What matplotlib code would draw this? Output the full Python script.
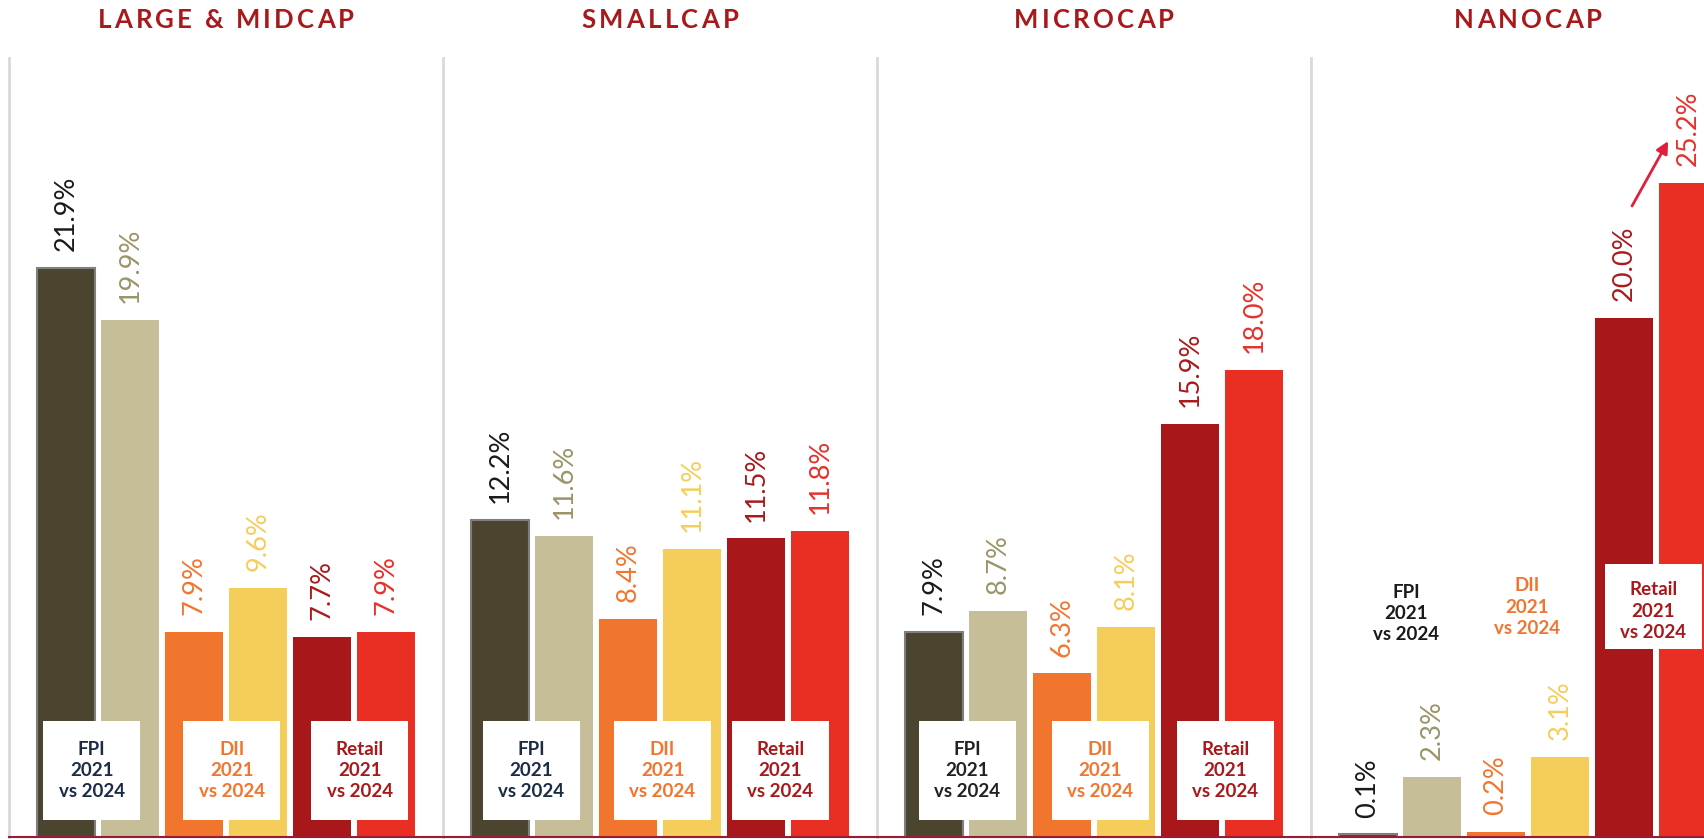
import matplotlib
matplotlib.use("Agg")
import matplotlib.pyplot as plt
from matplotlib.patches import Rectangle

plt.rcParams['font.family'] = ['Lato', 'DejaVu Sans']

# ---------------- data ----------------
panels = ["LARGE & MIDCAP", "SMALLCAP", "MICROCAP", "NANOCAP"]
series_names = ["FPI 2021", "FPI 2024", "DII 2021", "DII 2024", "Retail 2021", "Retail 2024"]
fpi_2021 = [21.9, 12.2, 7.9, 0.1]
fpi_2024 = [19.9, 11.6, 8.7, 2.3]
dii_2021 = [7.9, 8.4, 6.3, 0.2]
dii_2024 = [9.6, 11.1, 8.1, 3.1]
retail_2021 = [7.7, 11.5, 15.9, 20.0]
retail_2024 = [7.9, 11.8, 18.0, 25.2]
group_labels = ["FPI\n2021\nvs 2024", "DII\n2021\nvs 2024", "Retail\n2021\nvs 2024"]

series = [fpi_2021, fpi_2024, dii_2021, dii_2024, retail_2021, retail_2024]

# ---------------- style ----------------
bar_colors = ['#4B4530', '#C5BE99', '#F2752E', '#F5CD5A', '#A8181A', '#E92E24']
label_colors = ['#1A1A1A', '#9A9468', '#F2752E', '#F5CD5A', '#A8191B', '#E8302A']
title_color = '#A8191B'
sep_color = '#D9D9D9'
base_color = '#9B1B30'

W, H = 1704, 839
fig = plt.figure(figsize=(W / 100, H / 100), dpi=100)

panel_left0 = 9
panel_w = 434
axis_top_px = 58
base_px = 837

# box layout per panel: (x positions of the three group labels)
box_x = [[0.40, 2.59, 4.59], [0.49, 2.54, 4.38], [0.52, 2.60, 4.55], [0.60, 2.48, 4.46]]
fpi_text_colors = ['#1C2B47', '#1C2B47', '#222222', '#1A1A1A']
group_text_colors = [None, '#F2752E', '#A8191B']

xs = list(range(6))
gap = 0.65
box_fs = 13.5
for p, name in enumerate(panels):
    left = (panel_left0 + panel_w * p) / W
    ax = fig.add_axes([left, (H - base_px) / H, panel_w / W, (base_px - axis_top_px) / H])
    ax.set_xlim(-0.89, 5.89)
    ax.set_ylim(0, 30)
    vals = [s[p] for s in series]
    for i, v in enumerate(vals):
        ec = '#7F7F7F' if i == 0 else 'none'
        lw = 1.5 if i == 0 else 0
        ax.bar(xs[i], v, width=0.9, color=bar_colors[i], edgecolor=ec, linewidth=lw, zorder=2)
        ax.text(xs[i], v + gap, f"{v:.1f}%", rotation=90, ha='center', va='bottom',
                fontsize=19.5, color=label_colors[i], zorder=3)
    # group labels
    for g in range(3):
        xc = box_x[p][g]
        col = fpi_text_colors[p] if g == 0 else group_text_colors[g]
        if p < 3:
            ax.add_patch(Rectangle((xc - 0.758, 0.65), 1.516, 3.8, facecolor='white',
                                   edgecolor='none', zorder=4))
            ax.text(xc, 0.65 + 1.9, group_labels[g], ha='center', va='center',
                    multialignment='center', fontsize=box_fs, fontweight='bold',
                    color=col, linespacing=1.3, zorder=5)
        else:
            if g == 2:
                ax.add_patch(Rectangle((xc - 0.758, 7.23), 1.516, 3.27, facecolor='white',
                                       edgecolor='none', zorder=4))
                ax.text(xc, 8.7, group_labels[g], ha='center', va='center',
                        multialignment='center', fontsize=box_fs, fontweight='bold',
                        color=col, linespacing=1.3, zorder=5)
            else:
                yc = 8.6 if g == 0 else 8.85
                ax.text(xc, yc, group_labels[g], ha='center', va='center',
                        multialignment='center', fontsize=box_fs, fontweight='bold',
                        color=col, linespacing=1.3, zorder=5)
    if p == 3:
        ax.annotate("", xy=(4.69, 26.8), xytext=(4.125, 24.3),
                    arrowprops=dict(arrowstyle='-|>', color='#E0203A', lw=2,
                                    mutation_scale=18, shrinkA=0, shrinkB=0), zorder=6)
    for s in ['top', 'right']:
        ax.spines[s].set_visible(False)
    ax.spines['left'].set_color(sep_color)
    ax.spines['left'].set_linewidth(2)
    ax.spines['bottom'].set_color(base_color)
    ax.spines['bottom'].set_linewidth(1.5)
    ax.spines['bottom'].set_zorder(7)
    ax.set_xticks([])
    ax.set_yticks([])
    ax.patch.set_alpha(0)

# titles with letter spacing
renderer = fig.canvas.get_renderer()
title_kw = dict(fontsize=18.5, fontweight='bold', color=title_color)
letter_gap = 3.2
space_w = 6.0
baseline_y = 1 - 28 / H
for p, name in enumerate(panels):
    widths = []
    for ch in name:
        if ch == ' ':
            widths.append(space_w)
            continue
        t = fig.text(0, 0, ch, **title_kw)
        widths.append(t.get_window_extent(renderer).width)
        t.remove()
    total = sum(widths) + letter_gap * (len(name) - 1)
    cx = panel_left0 + panel_w * p + panel_w / 2
    x = cx - total / 2
    for ch, w in zip(name, widths):
        if ch != ' ':
            fig.text(x / W, baseline_y, ch, ha='left', va='baseline', **title_kw)
        x += w + letter_gap

fig.savefig("out.png", dpi=100)
